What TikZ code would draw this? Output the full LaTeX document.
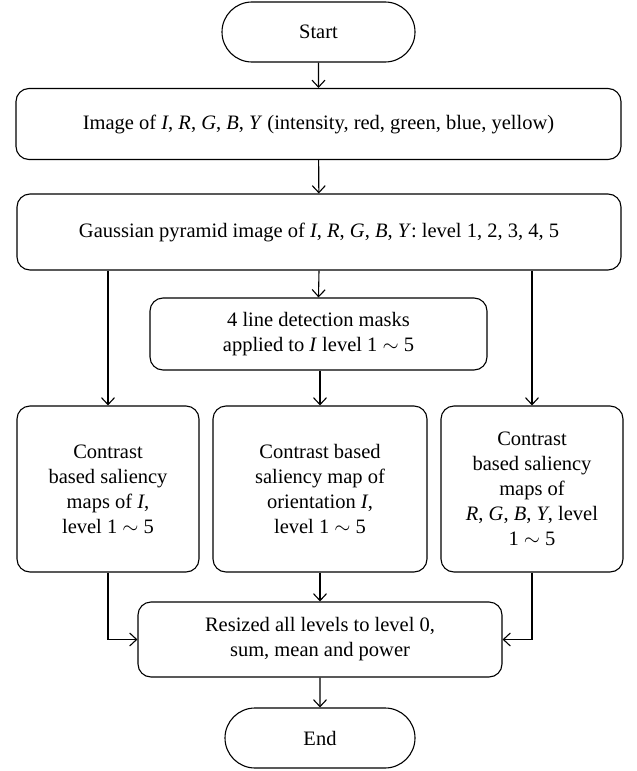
\documentclass[tikz,border=0pt]{standalone}
\usepackage{fontspec}
\setmainfont{Liberation Serif}
\usetikzlibrary{arrows.meta,shapes.misc}
\begin{document}
\begin{tikzpicture}[x=1pt,y=-1pt,
  txt/.style={align=center,inner sep=0pt,font=\fontsize{20.5}{25}\selectfont},
  box/.style={txt,draw,line width=1.1pt,rounded corners=13pt},
  term/.style={txt,draw,line width=1.1pt,rounded rectangle},
  arr/.style={line width=1.1pt,-{Straight Barb[length=7pt,width=13pt,line width=1.1pt]}}]
\useasboundingbox (0,0) rectangle (637,771);
\node[term,minimum width=193pt,minimum height=60pt] (st) at (318.5,32) {Start};
\node[box,minimum width=605pt,minimum height=71pt] (b1) at (318.5,124) {Image of \textit{I}, \textit{R}, \textit{G}, \textit{B}, \textit{Y} (intensity, red, green, blue, yellow)};
\node[box,minimum width=604pt,minimum height=76pt] (b2) at (319,232) {Gaussian pyramid image of \textit{I}, \textit{R}, \textit{G}, \textit{B}, \textit{Y}: level 1, 2, 3, 4, 5};
\node[box,minimum width=337pt,minimum height=72pt] (lm) at (318.5,334) {4 line detection masks\\applied to \textit{I} level 1 $\sim$ 5};
\node[box,minimum width=182pt,minimum height=166pt] (lc) at (108,489) {Contrast\\based saliency\\maps of \textit{I},\\level 1 $\sim$ 5};
\node[box,minimum width=214pt,minimum height=166pt] (mc) at (320,489) {Contrast based\\saliency map of\\orientation \textit{I},\\level 1 $\sim$ 5};
\node[box,minimum width=182pt,minimum height=166pt] (rc) at (532,489) {Contrast\\based saliency\\maps of\\\textit{R}, \textit{G}, \textit{B}, \textit{Y}, level\\1 $\sim$ 5};
\node[box,minimum width=364pt,minimum height=75pt] (rs) at (320,639.5) {Resized all levels to level 0,\\sum, mean and power};
\node[term,minimum width=190pt,minimum height=60pt] (en) at (320,738) {End};
\draw[arr] (st) -- (b1);
\draw[arr] (b1) -- (b2);
\draw[arr] (b2.south) -- (lm.north);
\draw[arr] (lc.north |- b2.south) -- (lc.north);
\draw[arr] (rc.north |- b2.south) -- (rc.north);
\draw[arr] (lm.south -| mc.north) -- (mc.north);
\draw[arr] (mc) -- (rs);
\draw[arr] (lc.south) |- (rs.west);
\draw[arr] (rc.south) |- (rs.east);
\draw[arr] (rs) -- (en);
\end{tikzpicture}
\end{document}
